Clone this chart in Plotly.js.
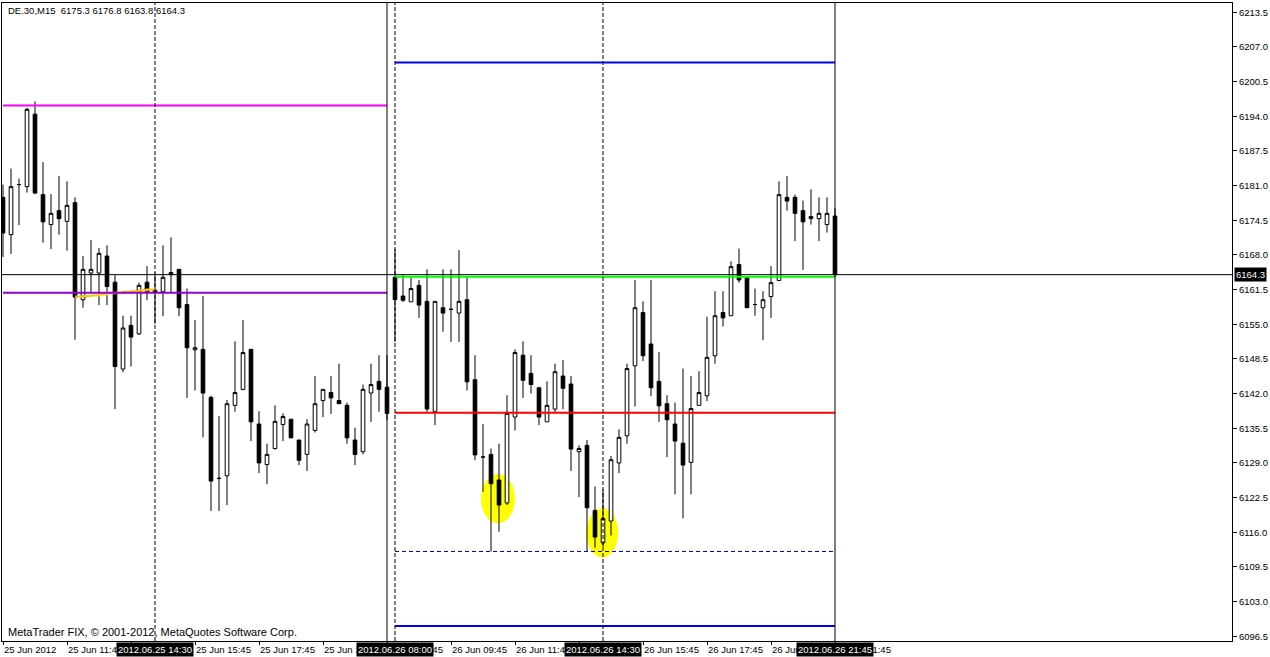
<!DOCTYPE html>
<html><head><meta charset="utf-8">
<script src="https://cdn.plot.ly/plotly-3.0.1.min.js"></script>
<style>html,body{margin:0;padding:0;background:#fff;overflow:hidden}#chart{width:1270px;height:657px}</style>
</head><body><div id="chart"></div>
<script>
// DE.30 M15 bars, 25 Jun 2012 09:45 .. 26 Jun 2012 21:45 (bar index 0..104)
const opens = [6178.8,6171.8,6181.2,6180.8,6194.4,6179.3,6173.7,6176.3,6174.3,6177.8,
 6159.6,6164.6,6164.6,6167.8,6162.9,6146.6,6154.8,6153.2,6162.9,6161.0,
 6161.1,6164.3,6165.3,6158.7,6150.2,6150.3,6141.3,6126.1,6126.6,6139.8,
 6142.8,6150.3,6136.3,6128.7,6131.7,6136.2,6137.2,6133.3,6130.6,6135.1,
 6140.7,6142.2,6140.7,6139.8,6133.3,6131.1,6142.1,6144.3,6143.2,6163.8,
 6160.3,6159.2,6162.3,6159.3,6138.6,6158.1,6157.8,6157.1,6159.6,6144.6,
 6130.1,6130.6,6125.8,6121.5,6137.6,6149.2,6145.8,6143.1,6136.7,6139.1,
 6145.3,6143.8,6131.1,6132.3,6120.1,6114.0,6118.1,6129.0,6134.1,6147.2,
 6157.2,6151.3,6144.3,6140.1,6136.3,6132.7,6129.1,6139.8,6141.6,6149.1,
 6157.2,6156.6,6166.2,6163.7,6158.7,6158.1,6160.2,6163.2,6178.8,6178.8,
 6176.3,6174.8,6174.8,6173.7,6175.3];
const highs = [6181.2,6184.2,6182.3,6195.6,6196.8,6185.4,6179.4,6182.8,6181.8,6178.8,
 6167.8,6170.8,6169.3,6169.8,6164.2,6156.6,6156.6,6162.8,6165.9,6164.7,
 6169.8,6171.3,6165.3,6161.7,6155.8,6160.3,6141.6,6137.8,6140.8,6151.8,
 6155.8,6150.3,6138.7,6132.6,6139.8,6138.3,6137.2,6133.3,6137.2,6145.3,
 6142.8,6145.3,6147.6,6140.3,6135.6,6143.7,6147.6,6149.2,6149.2,6169.1,
 6164.2,6163.8,6163.3,6165.3,6159.3,6165.3,6165.3,6168.9,6163.9,6149.2,
 6136.3,6131.7,6132.6,6141.7,6150.3,6151.8,6149.2,6143.1,6144.3,6147.6,
 6148.3,6145.3,6132.3,6133.3,6124.6,6124.0,6130.3,6135.3,6147.6,6163.3,
 6159.3,6163.3,6149.8,6141.7,6140.3,6146.7,6145.3,6146.2,6156.4,6161.2,
 6161.2,6166.8,6169.2,6163.7,6161.7,6161.2,6165.9,6181.8,6182.8,6179.3,
 6178.2,6180.3,6178.8,6178.8,6176.8];
const lows = [6167.6,6168.2,6173.6,6179.7,6179.4,6170.3,6169.1,6171.8,6168.8,6152.1,
 6158.1,6160.9,6158.6,6158.6,6139.1,6146.0,6147.1,6153.0,6159.5,6155.1,
 6156.5,6160.9,6156.5,6141.2,6142.6,6133.8,6120.0,6120.0,6121.1,6138.6,
 6142.6,6133.1,6127.1,6125.0,6131.5,6133.1,6133.7,6128.6,6127.5,6134.7,
 6137.6,6138.2,6140.1,6132.6,6128.6,6130.6,6136.7,6138.6,6137.0,6151.7,
 6159.2,6159.2,6156.2,6138.6,6136.1,6153.6,6151.7,6151.7,6142.6,6129.5,
 6123.6,6112.4,6116.1,6121.1,6135.1,6141.2,6142.0,6136.1,6136.7,6138.5,
 6139.1,6127.5,6122.6,6112.3,6113.1,6113.3,6115.4,6127.1,6132.6,6139.6,
 6148.1,6141.5,6136.7,6130.1,6123.1,6118.6,6123.1,6139.8,6140.6,6147.6,
 6154.6,6156.6,6162.8,6158.1,6156.6,6152.0,6156.2,6163.2,6176.3,6170.6,
 6165.2,6173.7,6170.6,6172.2,6163.8];
const closes = [6172.1,6180.8,6181.2,6195.3,6179.6,6174.2,6175.8,6174.8,6177.3,6160.1,
 6165.3,6165.3,6168.3,6162.1,6147.1,6154.3,6152.6,6162.3,6161.1,6161.4,
 6163.8,6164.7,6158.1,6150.6,6150.6,6142.1,6125.6,6126.1,6140.1,6142.2,
 6149.7,6136.7,6129.0,6130.6,6136.8,6137.7,6133.7,6129.5,6136.3,6140.1,
 6142.8,6141.2,6140.1,6133.7,6130.6,6142.8,6143.7,6142.8,6138.3,6159.6,
 6159.5,6161.7,6158.6,6139.1,6159.3,6157.1,6157.8,6159.3,6144.2,6130.5,
 6130.1,6125.1,6121.1,6138.3,6149.7,6144.5,6143.7,6137.6,6139.8,6146.1,
 6143.0,6131.6,6131.7,6120.6,6115.1,6118.6,6129.6,6133.8,6146.7,6158.1,
 6149.1,6143.1,6139.7,6137.1,6133.1,6128.6,6139.2,6142.2,6148.8,6156.6,
 6156.2,6165.8,6163.3,6158.1,6158.7,6159.6,6162.8,6179.3,6178.1,6175.8,
 6174.2,6175.2,6175.8,6175.8,6164.3];

// x-axis time labels (bar index -> text); labels fully covered by the cursor boxes left blank
const labelBars = [0,8,16,24,32,40,48,56,64,72,80,88,96,104];
const labelTexts = ['25 Jun 2012','25 Jun 11:45','','25 Jun 15:45','25 Jun 17:45',
 '25 Jun 19:45','25 Jun 21:45','26 Jun 09:45','26 Jun 11:45','','26 Jun 15:45',
 '26 Jun 17:45','26 Jun 19:45','26 Jun 21:45'];

// short moving-average segment
const maBars = [9,10,11,12,13,14,15,16,17,18,19];
const maValues = [6160.2,6160.3,6160.4,6160.6,6160.8,6160.9,6161.1,6161.2,6161.4,6161.5,6161.6];

// vertical markers
const sepBars = [48,104];
const markBars = [19,49,75];
const markTexts = ['2012.06.25 14:30','2012.06.26 08:00','2012.06.26 14:30','2012.06.26 21:45'];
const markLabelBars = [19,49,75,104];

// horizontal levels
const levelPrices = [6196.0,6160.9,6163.9,6138.4,6204.1,6098.4,6112.4];
const levelStart  = [0,0,49,49,49,49,49];
const levelEnd    = [48,48,104,104,104,104,104];
const levelColors = ['#FF00FF','#9400D3','#00FF00','#FF0000','#0000FF','#0000FF','#00008B'];
const levelDash   = ['solid','solid','solid','solid','solid','solid','4px,3px'];

// highlighted ellipses (bar range, price range)
const ellBars = [[59.75,64.0],[72.95,76.9]];
const ellPrices = [[6117.7,6126.9],[6111.3,6120.5]];

const idx = opens.map((_, i) => i);
const last = closes.length - 1;

const shapes = [];
ellBars.forEach((b, i) => shapes.push({type:'circle', xref:'x', yref:'y', x0:b[0], x1:b[1],
  y0:ellPrices[i][0], y1:ellPrices[i][1], fillcolor:'#FFFF00', line:{width:0}, layer:'below'}));
levelPrices.forEach((p, i) => shapes.push({type:'line', xref:'x', yref:'y', x0:levelStart[i], x1:levelEnd[i],
  y0:p, y1:p, line:{color:levelColors[i], width: levelDash[i]==='solid'?2:1, dash:levelDash[i]}, layer:'above'}));
sepBars.forEach(b => shapes.push({type:'line', xref:'x', yref:'paper', x0:b, x1:b, y0:0, y1:1,
  line:{color:'#000', width:1}, layer:'above'}));
markBars.forEach(b => shapes.push({type:'line', xref:'x', yref:'paper', x0:b, x1:b, y0:0, y1:1,
  line:{color:'#000', width:1, dash:'4px,2px'}, layer:'above'}));
shapes.push({type:'line', xref:'paper', yref:'y', x0:0, x1:1, y0:closes[last], y1:closes[last],
  line:{color:'#000', width:1}, layer:'above'});

const fnt = 'Liberation Sans, Arial, sans-serif';
const annotations = [];
markLabelBars.forEach((b, i) => annotations.push({xref:'x', yref:'paper', x:b, y:-0.0135, yanchor:'middle',
  xanchor:'center', text:markTexts[i], showarrow:false, bgcolor:'#000', borderpad:1,
  font:{family:fnt, size:9.5, color:'#fff'}}));
annotations.push({xref:'paper', yref:'y', x:1, xshift:2, xanchor:'left', y:closes[last], yanchor:'middle',
  text:closes[last].toFixed(1), showarrow:false, bgcolor:'#000', borderpad:1,
  font:{family:fnt, size:9.5, color:'#fff'}});
annotations.push({xref:'paper', yref:'paper', x:0.003, y:0.989, xanchor:'left', yanchor:'middle',
  text:'DE.30,M15\u00a0\u00a0' + [opens[last], highs[last], lows[last], closes[last]].map(v => v.toFixed(1)).join(' '),
  showarrow:false, font:{family:fnt, size:9.5, color:'#000'}});
annotations.push({xref:'paper', yref:'paper', x:0.003, y:0.0145, xanchor:'left', yanchor:'middle',
  text:'MetaTrader FIX, © 2001-2012, MetaQuotes Software Corp.', showarrow:false,
  font:{family:fnt, size:11, color:'#000'}});

const traces = [
  {type:'candlestick', x:idx, open:opens, high:highs, low:lows, close:closes,
   increasing:{line:{color:'#000', width:1}, fillcolor:'#FFFFFF'},
   decreasing:{line:{color:'#000', width:1}, fillcolor:'#000000'},
   whiskerwidth:0, hoverinfo:'skip', showlegend:false},
  {type:'scatter', mode:'lines', x:maBars, y:maValues, line:{color:'#FFC800', width:2, shape:'hv'},
   hoverinfo:'skip', showlegend:false}
];

const layout = {
  width:1270, height:657,
  margin:{l:2, r:38, t:3, b:16, pad:0},
  paper_bgcolor:'#fff', plot_bgcolor:'#fff',
  showlegend:false, boxgap:0.35,
  font:{family:fnt, size:9.5, color:'#000'},
  xaxis:{range:[-0.125,153.625], showgrid:false, zeroline:false, showline:true, mirror:true,
    linecolor:'#000', linewidth:1, ticks:'outside', ticklen:3, tickcolor:'#000',
    tickvals:labelBars, ticktext:labelTexts, ticklabelposition:'outside right',
    tickfont:{family:fnt, size:9.5, color:'#000'}, rangeslider:{visible:false}, fixedrange:true},
  yaxis:{side:'right', range:[6095.61,6215.24], tick0:6096.5, dtick:6.5, tickformat:'.1f',
    showgrid:false, zeroline:false, showline:true, mirror:true, linecolor:'#000', linewidth:1,
    ticks:'outside', ticklen:4, tickcolor:'#000', tickfont:{family:fnt, size:9.5, color:'#000'}, fixedrange:true},
  shapes:shapes, annotations:annotations
};

Plotly.newPlot('chart', traces, layout, {displayModeBar:false, staticPlot:true});
</script></body></html>
